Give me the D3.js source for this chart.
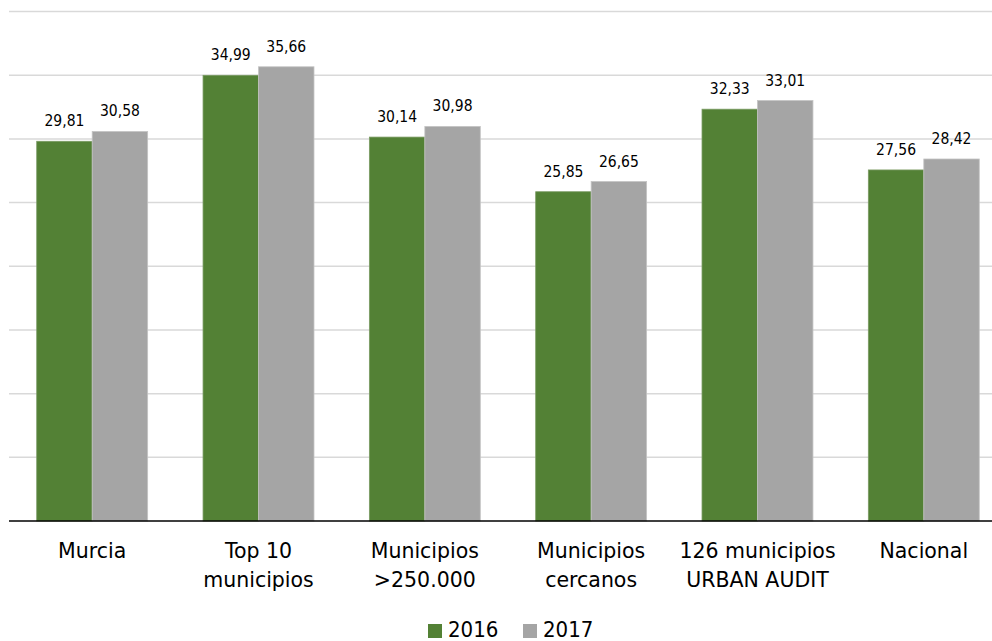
<!DOCTYPE html>
<html>
<head>
<meta charset="utf-8">
<script src="https://cdn.jsdelivr.net/npm/d3@7"></script>
<style>
  html, body { margin: 0; padding: 0; background: #fff; }
  svg { display: block; }
</style>
</head>
<body>
<svg id="chart" width="992" height="641"></svg>
<script>
const categories = [
  ["Murcia"],
  ["Top 10", "municipios"],
  ["Municipios", ">250.000"],
  ["Municipios", "cercanos"],
  ["126 municipios", "URBAN AUDIT"],
  ["Nacional"]
];
const seriesNames = ["2016", "2017"];
const values2016 = [29.81, 34.99, 30.14, 25.85, 32.33, 27.56];
const values2017 = [30.58, 35.66, 30.98, 26.65, 33.01, 28.42];
const yTicks = [0, 5, 10, 15, 20, 25, 30, 35, 40];
const colors = ["#538135", "#A5A5A5"];

const svg = d3.select("#chart");
const W = 992;
const plotLeft = 9, plotRight = 1007, plotTop = 11.5, plotBottom = 521;

const keys = categories.map((c, i) => i);
const x0 = d3.scaleBand().domain(keys).range([plotLeft, plotRight])
  .paddingInner(0.333).paddingOuter(0.1667);
const x1 = d3.scaleBand().domain([0, 1]).range([0, x0.bandwidth()]);
const y = d3.scaleLinear().domain([0, 40]).range([plotBottom, plotTop]);

// gridlines
svg.append("g").selectAll("line").data(yTicks.filter(t => t > 0)).join("line")
  .attr("x1", plotLeft).attr("x2", W)
  .attr("y1", d => y(d)).attr("y2", d => y(d))
  .attr("stroke", "#D9D9D9").attr("stroke-width", 1.5);

const data = keys.map(i => [values2016[i], values2017[i]]);

const groups = svg.append("g").selectAll("g").data(data).join("g")
  .attr("transform", (d, i) => `translate(${x0(i)},0)`);

groups.selectAll("rect").data(d => d.map((v, s) => ({v, s}))).join("rect")
  .attr("x", d => x1(d.s)).attr("width", x1.bandwidth())
  .attr("y", d => y(d.v)).attr("height", d => y(0) - y(d.v))
  .attr("fill", d => colors[d.s])
  .attr("stroke", d => d.s === 0 ? "#7a9a63" : "#c4c4c4").attr("stroke-width", 0.8);

const fmt = v => d3.format(".2f")(v).replace(".", ",");

groups.selectAll("text").data(d => d.map((v, s) => ({v, s}))).join("text")
  .attr("x", d => x1(d.s) + x1.bandwidth() / 2)
  .attr("y", d => y(d.v) - 15)
  .attr("text-anchor", "middle")
  .attr("font-family", "'DejaVu Sans Condensed', 'DejaVu Sans', sans-serif")
  .attr("font-stretch", "condensed")
  .attr("font-size", 15.5)
  .attr("fill", "#000")
  .text(d => fmt(d.v));

// baseline
svg.append("line")
  .attr("x1", plotLeft).attr("x2", W)
  .attr("y1", y(0)).attr("y2", y(0))
  .attr("stroke", "#000").attr("stroke-width", 1.6);

// x-axis labels
const xl = svg.append("g").selectAll("text").data(categories).join("text")
  .attr("x", (d, i) => x0(i) + x0.bandwidth() / 2)
  .attr("y", 558)
  .attr("text-anchor", "middle")
  .attr("font-family", "'DejaVu Sans', sans-serif")
  .attr("font-size", 20.5)
  .attr("fill", "#000");
xl.selectAll("tspan").data(d => d).join("tspan")
  .attr("x", function () { return this.parentNode.getAttribute("x"); })
  .attr("dy", (d, j) => j === 0 ? 0 : 29)
  .text(d => d);

// legend
const legendX = [428, 523];
const lg = svg.append("g").selectAll("g").data(seriesNames).join("g")
  .attr("transform", (d, i) => `translate(${legendX[i]},0)`);
lg.append("rect").attr("x", 0).attr("y", 624).attr("width", 14).attr("height", 14)
  .attr("fill", (d, i) => colors[i]);
lg.append("text").attr("x", 20).attr("y", 637)
  .attr("font-family", "'DejaVu Sans Condensed', 'DejaVu Sans', sans-serif")
  .attr("font-stretch", "condensed")
  .attr("font-size", 22)
  .attr("fill", "#000")
  .text(d => d);
</script>
</body>
</html>
